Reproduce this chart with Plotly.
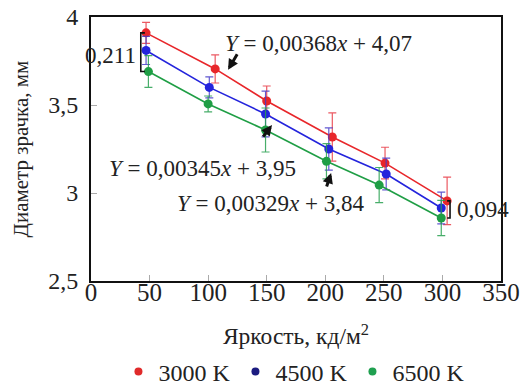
import plotly.graph_objects as go

# ---- data ----
x3000 = [47, 106, 150, 206, 251, 304]
y3000 = [3.91, 3.705, 3.523, 3.318, 3.17, 2.955]
e3000 = [0.06, 0.08, 0.085, 0.137, 0.09, 0.135]

x4500 = [47, 101, 149, 203, 252, 299]
y4500 = [3.81, 3.60, 3.449, 3.25, 3.108, 2.915]
e4500 = [0.08, 0.06, 0.13, 0.12, 0.09, 0.09]

x6500 = [49, 100, 149, 201, 246, 299]
y6500 = [3.69, 3.506, 3.358, 3.18, 3.045, 2.858]
e6500 = [0.09, 0.045, 0.125, 0.1, 0.1, 0.1]

names = ["3000 K", "4500 K", "6500 K"]
equations = ["<i>Y</i> = 0,00368<i>x</i> + 4,07",
             "<i>Y</i> = 0,00345<i>x</i> + 3,95",
             "<i>Y</i> = 0,00329<i>x</i> + 3,84"]
diff_labels = ["0,211", "0,094"]

line_colors = ["#e8262a", "#2424dc", "#1f9e45"]
err_colors = ["rgba(232,60,70,0.85)", "rgba(70,60,200,0.85)", "rgba(40,160,80,0.85)"]
legend_colors = ["#e02a2a", "#1c1c80", "#1fa050"]

FONT = "Liberation Serif"
TXT = "#222222"

fig = go.Figure()
series = [(x3000, y3000, e3000), (x4500, y4500, e4500), (x6500, y6500, e6500)]
for (xs, ys, es), lc, ec in zip(series, line_colors, err_colors):
    fig.add_trace(go.Scatter(
        x=xs, y=ys, mode="lines+markers", showlegend=False,
        line=dict(color=lc, width=1.6),
        marker=dict(color=lc, size=9),
        error_y=dict(type="data", array=es, visible=True, color=ec,
                     thickness=1.2, width=4),
    ))

for nm, c in zip(names, legend_colors):
    fig.add_trace(go.Scatter(x=[None], y=[None], mode="markers", name=nm,
                             marker=dict(color=c, size=8)))

annotations = []
# equations
eq_pos = [(112.7, 3.847), (13.7, 3.14), (71.7, 2.943)]
for t, (ex, ey) in zip(equations, eq_pos):
    annotations.append(dict(x=ex, y=ey, xref="x", yref="y", text=t,
                            showarrow=False, xanchor="left", yanchor="middle",
                            font=dict(family=FONT, size=23, color=TXT)))
# arrows
arrows = [(117, 3.70, 10, -17), (154.5, 3.386, -10, 13), (205, 3.114, -5, 15)]
for axp, ayp, dx, dy in arrows:
    annotations.append(dict(x=axp, y=ayp, xref="x", yref="y", text="",
                            showarrow=True, arrowhead=2, arrowsize=0.7,
                            arrowwidth=3, arrowcolor="#111111", ax=dx, ay=dy))

shapes = []
# bracket at first point (red vs green)
bx1 = 42.5
shapes.append(dict(type="path", xref="x", yref="y",
                   path=f"M {bx1+3.5},{y3000[0]} L {bx1},{y3000[0]} L {bx1},{y6500[0]} L {bx1+3.5},{y6500[0]}",
                   line=dict(color="#111111", width=1.6)))
annotations.append(dict(x=bx1 - 2.5, y=(y3000[0] + y6500[0]) / 2 - 0.02, xref="x", yref="y",
                        text=diff_labels[0], showarrow=False, xanchor="right",
                        yanchor="middle", font=dict(family=FONT, size=23, color=TXT)))
# bracket at last point
bx2 = 306.5
shapes.append(dict(type="path", xref="x", yref="y",
                   path=f"M {bx2-2.5},{y3000[-1]} L {bx2},{y3000[-1]} L {bx2},{y6500[-1]} L {bx2-2.5},{y6500[-1]}",
                   line=dict(color="#111111", width=1.6)))
annotations.append(dict(x=bx2 + 4.5, y=(y3000[-1] + y6500[-1]) / 2, xref="x", yref="y",
                        text=diff_labels[1], showarrow=False, xanchor="left",
                        yanchor="middle", font=dict(family=FONT, size=23, color=TXT)))

fig.update_layout(
    width=523, height=385,
    margin=dict(l=91, r=22, t=17, b=104),
    paper_bgcolor="white", plot_bgcolor="white",
    separators=", ",
    font=dict(family=FONT, size=22, color=TXT),
    annotations=annotations, shapes=shapes,
    legend=dict(orientation="h", x=0.495, xanchor="center",
                yref="container", y=1 - 372 / 385, yanchor="middle",
                font=dict(family=FONT, size=24, color=TXT),
                itemwidth=30, tracegroupgap=0),
)
fig.update_xaxes(range=[0, 350], dtick=50, tick0=0, showgrid=False, zeroline=False,
                 showline=True, linecolor="#111111", linewidth=2, mirror=True,
                 ticks="inside", ticklen=6, tickcolor="#aaaaaa", tickwidth=1,
                 tickfont=dict(family=FONT, size=25, color=TXT),
                 ticklabelstandoff=-12,
                 title=dict(text="Яркость, кд/м<sup>2</sup>", standoff=33,
                            font=dict(family=FONT, size=23.5, color=TXT)),
                 automargin=False)
fig.update_yaxes(range=[2.5, 4], dtick=0.5, tick0=2.5, showgrid=False, zeroline=False,
                 showline=True, linecolor="#111111", linewidth=2, mirror=True,
                 ticks="inside", ticklen=6, tickcolor="#aaaaaa", tickwidth=1,
                 tickfont=dict(family=FONT, size=24, color=TXT),
                 ticklabelstandoff=6,
                 title=dict(text="Диаметр зрачка, мм", standoff=14,
                            font=dict(family=FONT, size=21, color=TXT)),
                 automargin=False)

fig.write_html("out.html")
